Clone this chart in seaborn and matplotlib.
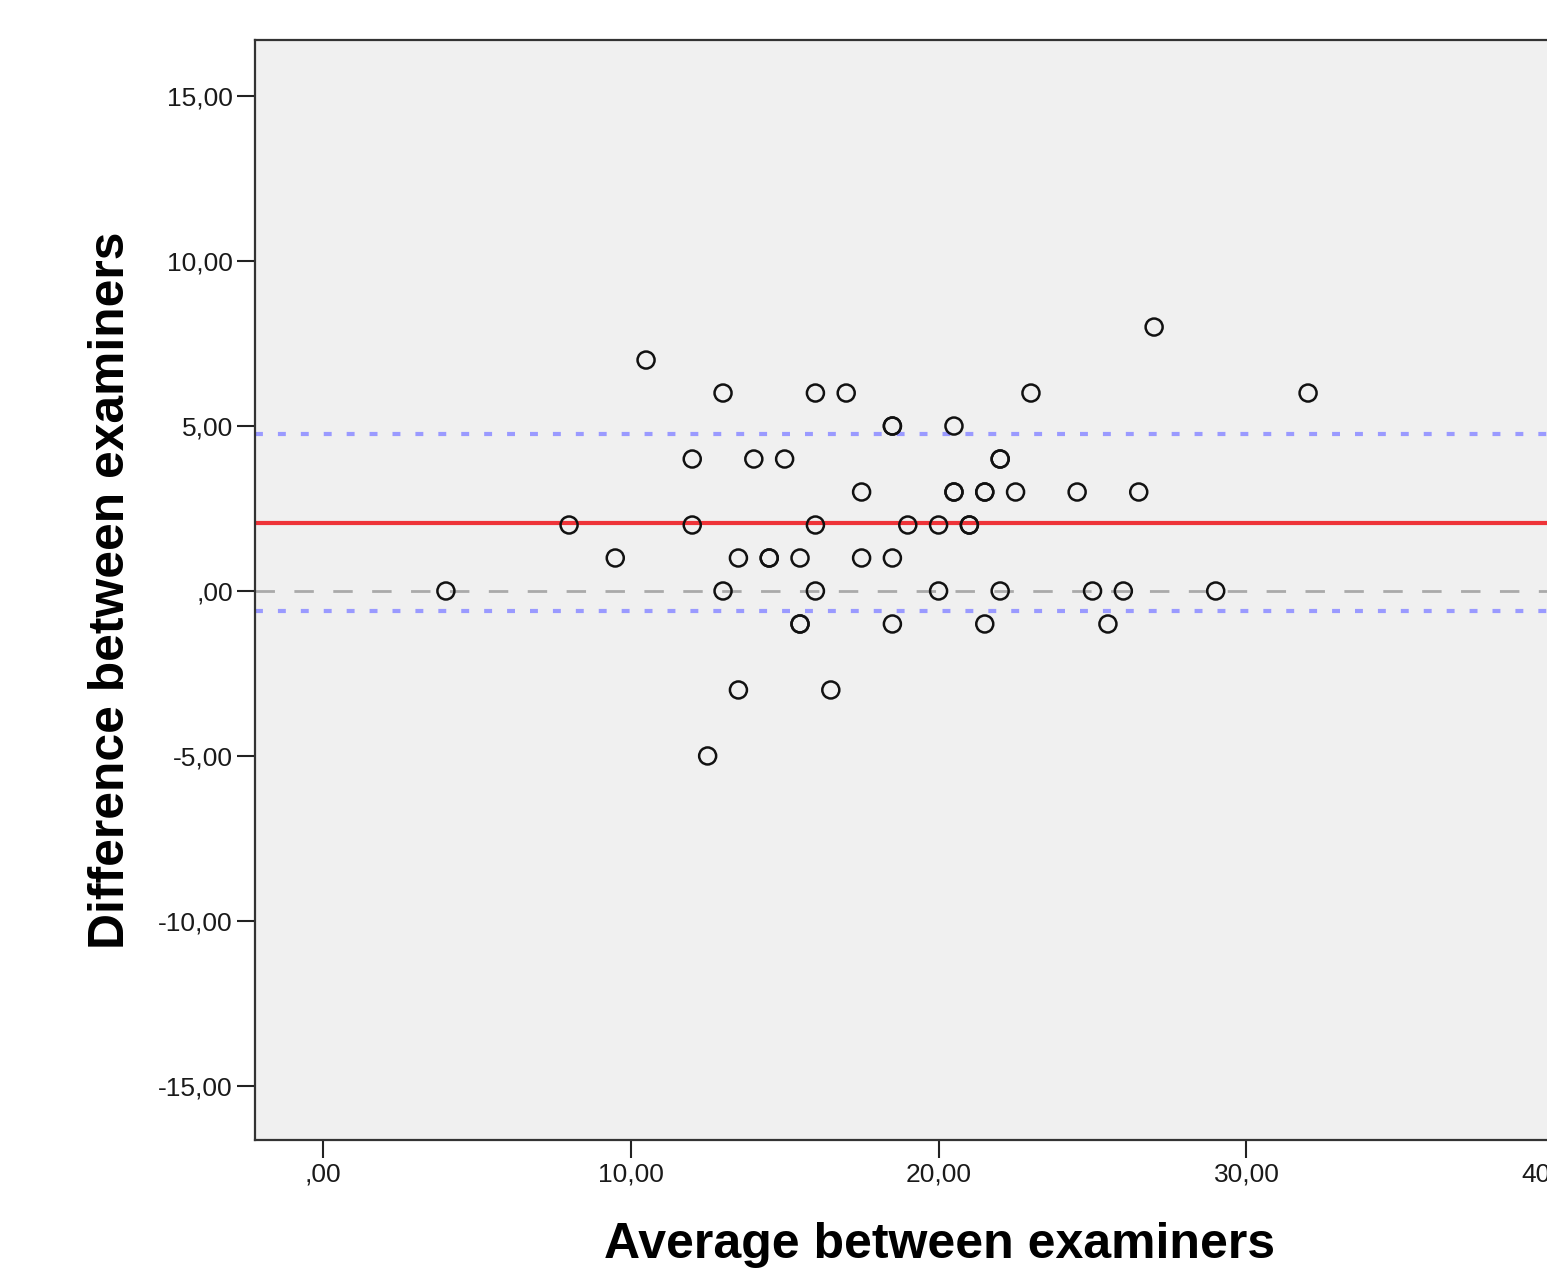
import matplotlib
matplotlib.use("Agg")
import matplotlib.pyplot as plt
import seaborn as sns
import pandas as pd

# Bland-Altman data (duplicates drawn twice)
average = [4, 8, 9.5, 10.5, 12, 12, 12.5, 13, 13, 13.5, 13.5, 14, 14.5, 14.5,
           15, 15.5, 15.5, 15.5, 16, 16, 16, 16.5, 17, 17.5, 17.5, 18.5, 18.5,
           18.5, 18.5, 19, 20, 20, 20.5, 20.5, 20.5, 21, 21, 21.5, 21.5, 21.5,
           22, 22, 22, 22.5, 23, 24.5, 25, 25.5, 26, 26.5, 27, 29, 32]
difference = [0, 2, 1, 7, 4, 2, -5, 6, 0, 1, -3, 4, 1, 1,
              4, 1, -1, -1, 6, 2, 0, -3, 6, 3, 1, 5, 5,
              1, -1, 2, 2, 0, 5, 3, 3, 2, 2, 3, 3, -1,
              4, 4, 0, 3, 6, 3, 0, -1, 0, 3, 8, 0, 6]

mean_diff = 2.06
upper_loa = 4.76
lower_loa = -0.60

x_ticks = [0, 10, 20, 30, 40]
x_tick_labels = [",00", "10,00", "20,00", "30,00", "40,00"]
y_ticks = [-15, -10, -5, 0, 5, 10, 15]
y_tick_labels = ["-15,00", "-10,00", "-5,00", ",00", "5,00", "10,00", "15,00"]

df = pd.DataFrame({"avg": average, "diff": difference})

sns.set_style("white")
plt.rcParams["font.family"] = ["Liberation Sans", "DejaVu Sans"]

fig = plt.figure(figsize=(15.47, 12.72), dpi=100)
W, H = 1547, 1272
ax_left, ax_right, ax_top, ax_bottom = 255, 1616, 40, 1140
ax = fig.add_axes([ax_left / W, (H - ax_bottom) / H,
                   (ax_right - ax_left) / W, (ax_bottom - ax_top) / H])
ax.set_facecolor("#f0f0f0")

# reference lines
ax.axhline(0, color="#aaaaaa", lw=2, ls=(0, (7, 7)), zorder=1)
ax.axhline(upper_loa, color="#9a9aff", lw=3, ls=(0, (1.9, 3.6)), zorder=1)
ax.axhline(lower_loa, color="#9a9aff", lw=3, ls=(0, (1.9, 3.6)), zorder=1)
ax.axhline(mean_diff, color="#ee3338", lw=3, zorder=2)

sns.scatterplot(data=df, x="avg", y="diff", ax=ax, marker="o", s=150,
                facecolor="none", edgecolor="#111111", linewidth=1.8, zorder=3)

ax.set_xlim(-2.2, 42)
ax.set_ylim(-16.64, 16.70)
ax.set_xticks(x_ticks)
ax.set_xticklabels(x_tick_labels)
ax.set_yticks(y_ticks)
ax.set_yticklabels(y_tick_labels)
ax.tick_params(axis="both", direction="out", length=13, width=1.5,
               color="#222222", labelsize=19, labelcolor="#1a1a1a", pad=3,
               left=True, bottom=True)

for side in ["left", "bottom", "top", "right"]:
    ax.spines[side].set_linewidth(1.6)
    ax.spines[side].set_color("#333333")

ax.set_xlabel("Average between examiners", fontsize=36, fontweight="bold",
              color="black")
ax.set_ylabel("Difference between examiners", fontsize=35.8, fontweight="bold",
              color="black")
ax.xaxis.set_label_coords(0.5026, -0.0745)
ax.yaxis.set_label_coords(-0.0886, 0.5)

fig.savefig("out.png", dpi=100)
